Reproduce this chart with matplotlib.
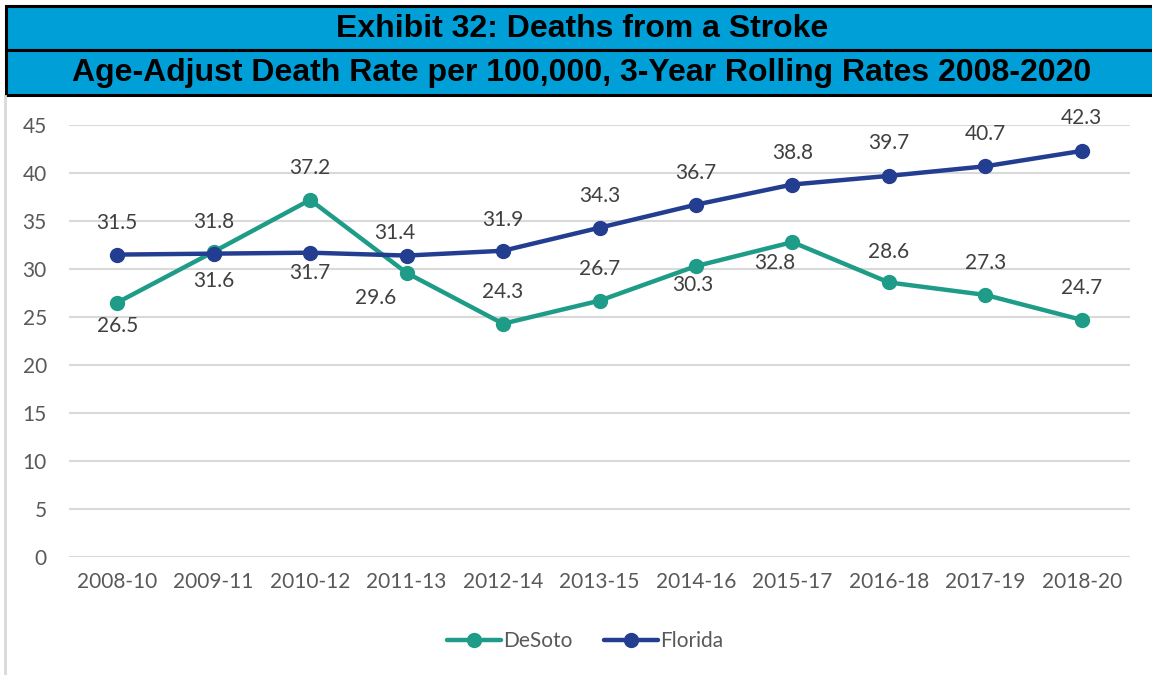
import matplotlib
matplotlib.use("Agg")
import matplotlib.pyplot as plt
from matplotlib.patches import Rectangle
from matplotlib.lines import Line2D

categories = ["2008-10", "2009-11", "2010-12", "2011-13", "2012-14", "2013-15",
              "2014-16", "2015-17", "2016-18", "2017-19", "2018-20"]
desoto = [26.5, 31.8, 37.2, 29.6, 24.3, 26.7, 30.3, 32.8, 28.6, 27.3, 24.7]
florida = [31.5, 31.6, 31.7, 31.4, 31.9, 34.3, 36.7, 38.8, 39.7, 40.7, 42.3]
yticks = [0, 5, 10, 15, 20, 25, 30, 35, 40, 45]
title1 = "Exhibit 32: Deaths from a Stroke"
title2 = "Age-Adjust Death Rate per 100,000, 3-Year Rolling Rates 2008-2020"

# label placement offsets (pixels: dx, dy with dy positive = up)
desoto_off = [(0, -23), (0, 30), (0, 32), (-31, -25), (0, 32), (0, 32),
              (-3, -19), (-18, -21), (0, 30), (0, 32), (0, 32)]
florida_off = [(0, 32), (0, -27), (0, -20), (-12, 23), (0, 31), (0, 32),
               (0, 32), (0, 32), (0, 33), (0, 32), (0, 33)]

W, H = 1152, 675
fig = plt.figure(figsize=(W / 100, H / 100), dpi=100)

teal = "#1E9C88"
navy = "#233E90"
blue = "#009FD7"
txt = "#404040"
font = "Lato"

def fx(px):
    return px / W

def fy(py):
    return 1 - py / H

for (top, bot, t) in [(6, 50, title1), (50, 95, title2)]:
    r = Rectangle((fx(6), fy(bot)), fx(1156) - fx(6), fy(top) - fy(bot),
                  transform=fig.transFigure, facecolor=blue, edgecolor="black",
                  linewidth=2.2, clip_on=False)
    fig.patches.append(r)
    fig.text(fx(582), fy((top + bot) / 2 + 1), t, ha="center", va="center",
             fontsize=23, fontweight="bold", family="Liberation Sans", color="black")

fig.add_artist(Line2D([fx(5), fx(5)], [fy(96), fy(675)], transform=fig.transFigure,
                      color="#D9D9D9", linewidth=2))

ax = fig.add_axes([fx(69), fy(557), fx(1130) - fx(69), fy(125) - fy(557)])
x = list(range(len(categories)))
ax.set_xlim(-0.5, len(categories) - 0.5)
ax.set_ylim(0, 45)
ax.set_yticks(yticks)
ax.set_xticks(x)
ax.set_xticklabels(categories)
for s in ax.spines.values():
    s.set_visible(False)
ax.grid(axis="y", color="#D9D9D9", linewidth=1.5)
ax.set_axisbelow(True)
ax.tick_params(length=0, labelsize=15, labelcolor="#595959")
ax.tick_params(axis="x", pad=11)
ax.tick_params(axis="y", pad=16)
for lab in ax.get_xticklabels() + ax.get_yticklabels():
    lab.set_family(font)

ax.plot(x, desoto, color=teal, linewidth=3.2, marker="o", markersize=10,
        label="DeSoto", solid_capstyle="round", zorder=3)
ax.plot(x, florida, color=navy, linewidth=3.2, marker="o", markersize=10,
        label="Florida", solid_capstyle="round", zorder=4)

for series, offs in [(desoto, desoto_off), (florida, florida_off)]:
    for i, v in enumerate(series):
        dx, dy = offs[i]
        ax.annotate(f"{v:.1f}", (x[i], v), xytext=(dx * 0.72, dy * 0.72),
                    textcoords="offset points", ha="center", va="center",
                    fontsize=15, color=txt, family=font)

leg = ax.legend(loc="center", bbox_to_anchor=(fx(585), fy(641)),
                bbox_transform=fig.transFigure, ncol=2, frameon=False,
                prop={"family": font, "size": 15}, handlelength=2.6,
                columnspacing=1.5, handletextpad=0.1)
for t in leg.get_texts():
    t.set_color("#595959")

fig.savefig("out.png", dpi=100)
